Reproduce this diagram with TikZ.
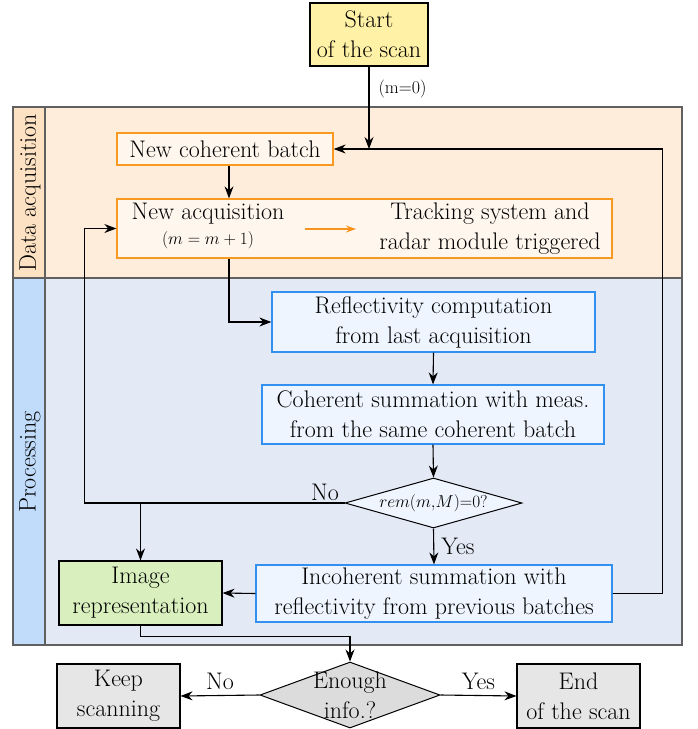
\documentclass[tikz,border=0pt]{standalone}
\usepackage{tikz}
\usetikzlibrary{shapes.geometric,arrows.meta}
\definecolor{startyel}{HTML}{FFF2A6}
\definecolor{accband}{HTML}{FFEDDB}
\definecolor{accstrip}{HTML}{FCE1C2}
\definecolor{procband}{HTML}{E3EAF6}
\definecolor{procstrip}{HTML}{C0DCFA}
\definecolor{oborder}{HTML}{F89A20}
\definecolor{ofill}{HTML}{FFF6EE}
\definecolor{bborder}{HTML}{3290F0}
\definecolor{bfill}{HTML}{EEF5FE}
\definecolor{imgreen}{HTML}{D9F0BE}
\definecolor{gbox}{HTML}{E6E6E6}
\definecolor{gdia}{HTML}{DCDCDC}
\definecolor{bandline}{HTML}{606060}
\definecolor{oarrow}{HTML}{F7931E}
\begin{document}
\begin{tikzpicture}[x=1pt,y=-1pt,
  txt/.style={font=\fontsize{24}{30}\selectfont, align=center, inner sep=0pt},
  box/.style={txt, draw, rectangle, line width=1.1pt},
  obox/.style={box, draw=oborder, fill=ofill, line width=1.3pt},
  bbox/.style={box, draw=bborder, fill=bfill, line width=1.2pt},
  dia/.style={draw, diamond, line width=1pt, inner sep=0pt},
  arr/.style={line width=1.1pt, -{Stealth[length=12pt,width=9pt]}},
  small/.style={font=\fontsize{18}{20}\selectfont, inner sep=0pt},
  vlabel/.style={font=\fontsize{24}{28}\selectfont, rotate=90, inner sep=0pt}
]
\useasboundingbox (0,0) rectangle (697,729);
% bands
\fill[accband] (13,107) rectangle (682,278);
\fill[accstrip] (13,107) rectangle (45,278);
\fill[procband] (13,278) rectangle (682,645);
\fill[procstrip] (13,278) rectangle (45,645);
\draw[bandline, line width=1.2pt] (13,107) rectangle (682,278);
\draw[bandline, line width=1.2pt] (13,278) rectangle (682,645);
\draw[bandline, line width=1.2pt] (45,107) -- (45,645);
\node[vlabel] (lacq) at (30,193) {Data acquisition};
\node[vlabel] (lproc) at (30,462) {Processing};

% nodes
\node[box, fill=startyel, minimum width=118pt, minimum height=63pt] (start) at (369,34.5) {Start\\of the scan};
\node[obox, minimum width=216pt, minimum height=32pt] (ncb) at (225,149) {New coherent batch};
\node[obox, minimum width=495pt, minimum height=59pt] (na) at (364.5,228.5) {};
\node[txt] (natxt) at (208,214) {New acquisition};
\node[small, font=\fontsize{19}{21}\selectfont] (nam) at (208,240) {$(m=m+1)$};
\node[txt] (trk) at (490,228.5) {Tracking system and\\radar module triggered};
\coordinate (oa1) at (305,229);
\coordinate (oa2) at (356,229);
\draw[oarrow, line width=1.1pt, -{Stealth[length=10pt,width=7pt]}] (oa1) -- (oa2);

\node[bbox, minimum width=323pt, minimum height=60pt] (refl) at (433.5,322) {Reflectivity computation\\from last acquisition};
\node[bbox, minimum width=342pt, minimum height=59pt] (coh) at (433,414.5) {Coherent summation with meas.\\from the same coherent batch};
\node[dia, fill=bfill, minimum width=177pt, minimum height=50pt, aspect=3.54] (rem) at (433.5,503) {};
\node[small] (remtxt) at (rem.center) {$rem(m{,}M){=}0?$};
\node[bbox, minimum width=356pt, minimum height=57pt] (inc) at (434,593.5) {Incoherent summation with\\reflectivity from previous batches};
\node[box, fill=imgreen, minimum width=163pt, minimum height=64pt] (img) at (140.5,593) {Image\\representation};
\node[dia, fill=gdia, minimum width=180pt, minimum height=66pt, aspect=2.73] (enough) at (350,695) {};
\node[txt] (entxt) at (enough.center) {Enough\\info.?};
\node[box, fill=gbox, minimum width=123pt, minimum height=64pt] (keep) at (118.5,696) {Keep\\scanning};
\node[box, fill=gbox, minimum width=123pt, minimum height=64pt] (endn) at (578.5,696) {End\\of the scan};

% connectors
\coordinate (join) at (start.south |- ncb.east);
\draw[arr] (start.south) -- (join) node[small, pos=0.27, right=9pt] (m0) {(m=0)};
\draw[arr] (inc.east) -- ++(50,0) |- (ncb.east);
\draw[arr] ([xshift=4pt]ncb.south) -- ([xshift=4pt]ncb.south |- na.north);
\draw[arr] ([xshift=4pt]ncb.south |- na.south) |- (refl.west);
\draw[arr] (refl.south) -- (coh.north);
\draw[arr] (coh.south) -- (rem.north);
\draw[arr] (rem.west) -- ++(-260,0) |- (na.west);
\node[txt] (nolab) at (325,492) {No};
\draw[arr] (img.north |- rem.west) -- (img.north);
\draw[arr] (rem.south) -- (inc.north) node[txt, midway, right=7pt] (yeslab) {Yes};
\draw[arr] (inc.west) -- (img.east);
\draw[arr] (img.south) -- ++(0,11) -| (enough.north);
\draw[arr] (enough.west) -- (keep.east) node[txt, midway, above=5pt] (no2) {No};
\draw[arr] (enough.east) -- (endn.west) node[txt, midway, above=5pt] (yes2) {Yes};
\end{tikzpicture}
\end{document}
